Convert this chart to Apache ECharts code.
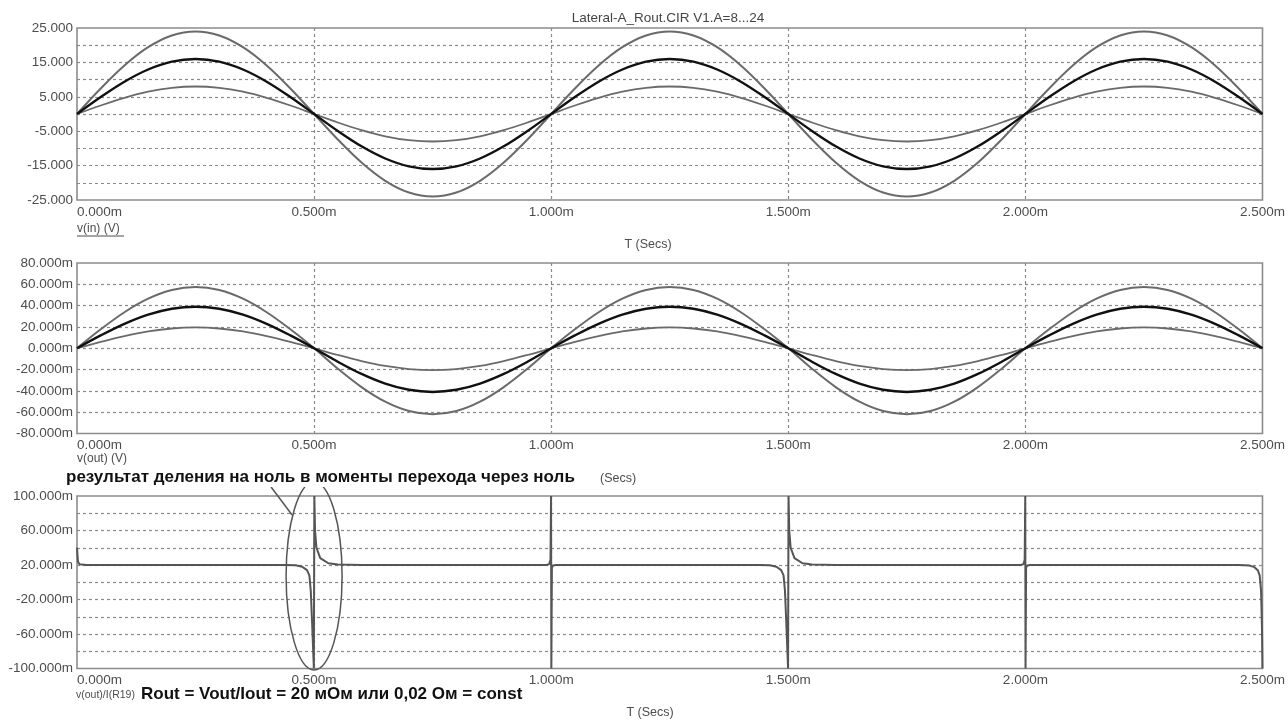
<!DOCTYPE html>
<html>
<head>
<meta charset="utf-8">
<script src="https://cdn.jsdelivr.net/npm/echarts@6/dist/echarts.min.js"></script>
<style>
html,body{margin:0;padding:0;background:#fff;}
#c{width:1288px;height:721px;}
</style>
</head>
<body>
<div id="c"></div>
<script>
// ---- data (time in ms) ----
const timeMs = [0,0.05,0.1,0.15,0.2,0.25,0.3,0.35,0.4,0.45,0.5,0.55,0.6,0.65,0.7,0.75,0.8,0.85,0.9,0.95,
  1.0,1.05,1.1,1.15,1.2,1.25,1.3,1.35,1.4,1.45,1.5,1.55,1.6,1.65,1.7,1.75,1.8,1.85,1.9,1.95,
  2.0,2.05,2.1,2.15,2.2,2.25,2.3,2.35,2.4,2.45,2.5];

// v(in), V  (A = 24, 16, 8)
const vin24 = [0,7.42,14.11,19.42,22.83,24,22.83,19.42,14.11,7.42,
  0,-7.42,-14.11,-19.42,-22.83,-24,-22.83,-19.42,-14.11,-7.42,
  0,7.42,14.11,19.42,22.83,24,22.83,19.42,14.11,7.42,
  0,-7.42,-14.11,-19.42,-22.83,-24,-22.83,-19.42,-14.11,-7.42,
  0,7.42,14.11,19.42,22.83,24,22.83,19.42,14.11,7.42,0];
const vin16 = [0,4.94,9.40,12.94,15.22,16,15.22,12.94,9.40,4.94,
  0,-4.94,-9.40,-12.94,-15.22,-16,-15.22,-12.94,-9.40,-4.94,
  0,4.94,9.40,12.94,15.22,16,15.22,12.94,9.40,4.94,
  0,-4.94,-9.40,-12.94,-15.22,-16,-15.22,-12.94,-9.40,-4.94,
  0,4.94,9.40,12.94,15.22,16,15.22,12.94,9.40,4.94,0];
const vin8 = [0,2.47,4.70,6.47,7.61,8,7.61,6.47,4.70,2.47,
  0,-2.47,-4.70,-6.47,-7.61,-8,-7.61,-6.47,-4.70,-2.47,
  0,2.47,4.70,6.47,7.61,8,7.61,6.47,4.70,2.47,
  0,-2.47,-4.70,-6.47,-7.61,-8,-7.61,-6.47,-4.70,-2.47,
  0,2.47,4.70,6.47,7.61,8,7.61,6.47,4.70,2.47,0];

// v(out), mV
const vout24 = [0,17.77,33.80,46.52,54.69,57.5,54.69,46.52,33.80,17.77,
  0,-19.16,-36.44,-50.16,-58.97,-62,-58.97,-50.16,-36.44,-19.16,
  0,17.77,33.80,46.52,54.69,57.5,54.69,46.52,33.80,17.77,
  0,-19.16,-36.44,-50.16,-58.97,-62,-58.97,-50.16,-36.44,-19.16,
  0,17.77,33.80,46.52,54.69,57.5,54.69,46.52,33.80,17.77,0];
const vout16 = [0,12.05,22.92,31.55,37.09,39,37.09,31.55,22.92,12.05,
  0,-12.67,-24.10,-33.17,-38.99,-41,-38.99,-33.17,-24.10,-12.67,
  0,12.05,22.92,31.55,37.09,39,37.09,31.55,22.92,12.05,
  0,-12.67,-24.10,-33.17,-38.99,-41,-38.99,-33.17,-24.10,-12.67,
  0,12.05,22.92,31.55,37.09,39,37.09,31.55,22.92,12.05,0];
const vout8 = [0,6.03,11.46,15.78,18.55,19.5,18.55,15.78,11.46,6.03,
  0,-6.33,-12.05,-16.58,-19.50,-20.5,-19.50,-16.58,-12.05,-6.33,
  0,6.03,11.46,15.78,18.55,19.5,18.55,15.78,11.46,6.03,
  0,-6.33,-12.05,-16.58,-19.50,-20.5,-19.50,-16.58,-12.05,-6.33,
  0,6.03,11.46,15.78,18.55,19.5,18.55,15.78,11.46,6.03,0];

// v(out)/I(R19), mOhm : [t ms, value]
const routPts = [
  [0,40],[0.002,24],[0.005,21],[0.02,20],[0.44,20],[0.461,19.6],[0.475,18],[0.485,14],[0.49,8],[0.493,-10],[0.496,-50],[0.4995,-100],
  [0.5005,100],[0.502,60],[0.505,40],[0.513,28],[0.53,22],[0.55,20.5],[0.6,20],
  [0.99,20],[0.996,21],[0.9985,26],[0.9997,100],[1.0003,-100],[1.0015,17],[1.004,19.5],[1.01,20],
  [1.44,20],[1.461,19.6],[1.475,18],[1.485,14],[1.49,8],[1.493,-10],[1.496,-50],[1.4995,-100],
  [1.5005,100],[1.502,60],[1.505,40],[1.513,28],[1.53,22],[1.55,20.5],[1.6,20],
  [1.99,20],[1.996,21],[1.9985,26],[1.9997,100],[2.0003,-100],[2.0015,17],[2.004,19.5],[2.01,20],
  [2.45,20],[2.473,19.3],[2.483,17.5],[2.49,14],[2.494,8],[2.497,-10],[2.499,-55],[2.5,-100]
];

const xTicks = {min:0, max:2.5, interval:0.5};
const y1 = {min:-25, max:25, interval:5};
const y2 = {min:-80, max:80, interval:20};
const y3 = {min:-100, max:100, interval:20};

// ---- styles ----
const FONT = '"Liberation Sans", Arial, sans-serif';
const LABEL_COLOR = '#4d4d4d';
const GRID_DASH = {color:'#8a8a8a', width:1.2, type:[3,3]};

function xAxis(gi){
  return {
    type:'value', gridIndex:gi, min:xTicks.min, max:xTicks.max, interval:xTicks.interval,
    axisLine:{show:false}, axisTick:{show:false},
    splitLine:{show:true, showMinLine:false, showMaxLine:false, lineStyle:GRID_DASH},
    axisLabel:{show:true, color:LABEL_COLOR, fontFamily:FONT, fontSize:13.5, margin:5,
      showMinLabel:true, showMaxLabel:true, alignMinLabel:'left', hideOverlap:false,
      formatter:v=>v.toFixed(3)+'m'}
  };
}
function yAxis(gi, r, fmt){
  return {
    type:'value', gridIndex:gi, min:r.min, max:r.max, interval:r.interval,
    axisLine:{show:false}, axisTick:{show:false},
    splitLine:{show:true, showMinLine:false, showMaxLine:false, lineStyle:GRID_DASH},
    axisLabel:{show:true, color:LABEL_COLOR, fontFamily:FONT, fontSize:13.5, margin:4,
      showMinLabel:true, showMaxLabel:true, hideOverlap:false, formatter:fmt}
  };
}
function pairs(arr){ return timeMs.map((t,i)=>[t, arr[i]]); }
function line(gi, data, color, width, z){
  return {type:'line', xAxisIndex:gi, yAxisIndex:gi, data:data, showSymbol:false, symbol:'none',
    smooth:0.35, clip:true, z:z||2, lineStyle:{color:color, width:width}, silent:true, animation:false};
}

const chart = echarts.init(document.getElementById('c'), null, {renderer:'canvas'});
const gridBase = {left:77, right:25, show:true, borderColor:'#8c8c8c', borderWidth:1.6, backgroundColor:'#fff'};

const txt = (x,y,text,opt)=>({type:'text', x:x, y:y, z:10, silent:true,
  style:Object.assign({text:text, fill:LABEL_COLOR, font:'13px '+FONT, textAlign:'left', textVerticalAlign:'middle'}, opt||{})});

const option = {
  animation:false,
  backgroundColor:'#fff',
  grid:[
    Object.assign({top:28, height:172}, gridBase),
    Object.assign({top:263, height:170.5}, gridBase),
    Object.assign({top:496, height:172.5}, gridBase)
  ],
  xAxis:[xAxis(0), xAxis(1), xAxis(2)],
  yAxis:[
    yAxis(0, y1, v=>(Math.round(v)%10!==0 ? v.toFixed(3) : '')),
    yAxis(1, y2, v=>v.toFixed(3)+'m'),
    yAxis(2, y3, v=>((Math.round(v)+100)%40===0 ? v.toFixed(3)+'m' : ''))
  ],
  series:[
    line(0, pairs(vin24), '#6a6a6a', 2),
    line(0, pairs(vin8), '#6a6a6a', 1.8),
    line(0, pairs(vin16), '#111111', 2.4, 3),
    line(1, pairs(vout24), '#6a6a6a', 2),
    line(1, pairs(vout8), '#6a6a6a', 1.8),
    line(1, pairs(vout16), '#111111', 2.4, 3),
    Object.assign(line(2, routPts, '#555555', 2), {smooth:false})
  ]
};
chart.setOption(option);

// annotation placed via the chart's own coordinate system
const c0 = chart.convertToPixel({gridIndex:2}, [0.5, 5]);
const graphics = [
  txt(668, 18, 'Lateral-A_Rout.CIR V1.A=8...24', {textAlign:'center', font:'13.5px '+FONT, fill:'#444'}),
  txt(77, 229, 'v(in) (V)', {font:'12px '+FONT}),
  {type:'line', z:10, silent:true, shape:{x1:77, y1:236, x2:124, y2:236}, style:{stroke:LABEL_COLOR, lineWidth:1}},
  txt(648, 245, 'T (Secs)', {textAlign:'center', font:'12.5px '+FONT}),
  txt(77, 459, 'v(out) (V)', {font:'12px '+FONT}),
  {type:'ellipse', z:9, silent:true, shape:{cx:c0[0], cy:c0[1]-2, rx:28, ry:94}, style:{fill:'none', stroke:'#555', lineWidth:1.5}},
  {type:'line', z:9, silent:true, shape:{x1:c0[0]-43, y1:487, x2:c0[0]-22, y2:515}, style:{stroke:'#555', lineWidth:1.5}},
  txt(66, 477, 'результат деления на ноль в моменты перехода через ноль', {fill:'#111', font:'bold 17px '+FONT, backgroundColor:'#fff', padding:[1,0,2,0]}),
  txt(600, 479, '(Secs)', {font:'12.5px '+FONT}),
  txt(76, 695, 'v(out)/I(R19)', {font:'10.5px '+FONT}),
  txt(141, 694, 'Rout = Vout/Iout = 20 мОм или 0,02 Ом = const', {fill:'#111', font:'bold 17px '+FONT}),
  txt(650, 713, 'T (Secs)', {textAlign:'center', font:'12.5px '+FONT})
];
chart.setOption({graphic:graphics});
</script>
</body>
</html>
